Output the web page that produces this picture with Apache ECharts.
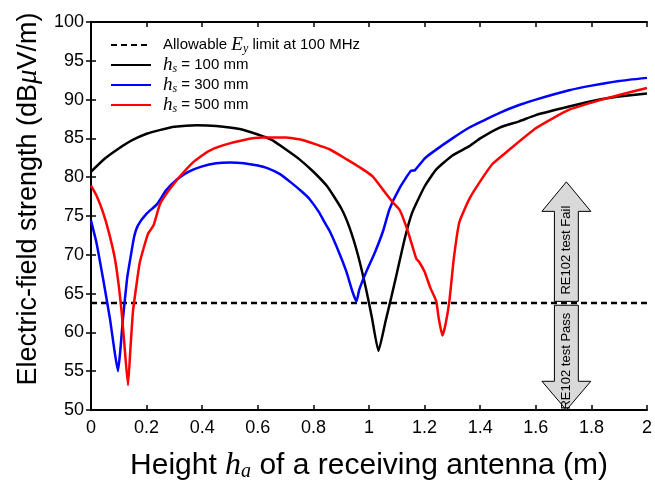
<!DOCTYPE html>
<html>
<head>
<meta charset="utf-8">
<script src="https://cdn.jsdelivr.net/npm/echarts@6/dist/echarts.min.js"></script>
<style>
  html, body { margin: 0; padding: 0; background: #fff; }
  #chart { width: 655px; height: 487px; }
</style>
</head>
<body>
<div id="chart"></div>
<script>
// limit line (dB uV/m)
const limitLevel = 63.8
const limitLine = [[0, limitLevel], [2, limitLevel]]

// hs = 100 mm
const hs100 = [
  [0, 80.7], [0.05, 82.4], [0.1, 83.7], [0.15, 84.8], [0.2, 85.6], [0.25, 86.1],
  [0.3, 86.5], [0.38, 86.7], [0.45, 86.6], [0.535, 86.2], [0.6, 85.5], [0.65, 84.8],
  [0.7, 83.6], [0.75, 82.3], [0.8, 80.7], [0.85, 78.8], [0.9, 76.0], [0.93, 73.5],
  [0.96, 70.0], [0.99, 65.5], [1.01, 62.0], [1.034, 57.6], [1.06, 61.5], [1.08, 64.5],
  [1.1, 67.6], [1.13, 72.3], [1.156, 75.5], [1.2, 78.8], [1.242, 81.0], [1.3, 82.8],
  [1.361, 84.0], [1.4, 85.0], [1.47, 86.4], [1.54, 87.2], [1.6, 88.0], [1.72, 89.1],
  [1.83, 90.0], [1.9, 90.4], [2, 90.8]
]

// hs = 300 mm
const hs300 = [
  [0, 74.4], [0.02, 71.5], [0.043, 67.0], [0.068, 61.8], [0.085, 57.5], [0.097, 55.0],
  [0.105, 57.5], [0.115, 61.8], [0.13, 67.0], [0.14, 69.2], [0.155, 72.3], [0.169, 73.8],
  [0.2, 75.3], [0.237, 76.5], [0.27, 78.3], [0.309, 79.7], [0.35, 80.7], [0.4, 81.4],
  [0.45, 81.8], [0.5, 81.9], [0.55, 81.8], [0.6, 81.5], [0.632, 81.2], [0.68, 80.4],
  [0.72, 79.3], [0.76, 78.1], [0.786, 77.2], [0.82, 75.5], [0.84, 74.2], [0.858, 73.1],
  [0.89, 70.5], [0.919, 67.8], [0.94, 65.3], [0.955, 64.0], [0.965, 65.5], [0.99, 67.8],
  [1.02, 70.2], [1.05, 73.0], [1.074, 75.9], [1.11, 78.6], [1.15, 80.8], [1.165, 80.9],
  [1.2, 82.4], [1.228, 83.2], [1.3, 85.0], [1.361, 86.4], [1.4, 87.1], [1.47, 88.3],
  [1.54, 89.3], [1.6, 90.0], [1.72, 91.2], [1.8, 91.8], [1.9, 92.4], [2, 92.8]
]

// hs = 500 mm
const hs500 = [
  [0, 78.9], [0.02, 77.6], [0.043, 75.5], [0.065, 72.8], [0.086, 69.5], [0.1, 66.0],
  [0.11, 62.7], [0.12, 58.5], [0.133, 53.2], [0.142, 58.0], [0.151, 62.7], [0.165, 66.5],
  [0.176, 69.1], [0.205, 72.7], [0.225, 73.8], [0.248, 76.5], [0.28, 78.3], [0.32, 80.1],
  [0.37, 82.0], [0.42, 83.3], [0.474, 84.1], [0.55, 84.8], [0.618, 85.1], [0.7, 85.1],
  [0.76, 84.8], [0.858, 83.6], [0.92, 82.3], [0.97, 81.2], [1.013, 80.1], [1.05, 78.4],
  [1.085, 76.8], [1.11, 75.8], [1.14, 73.0], [1.17, 69.5], [1.18, 69.1], [1.2, 67.8],
  [1.22, 65.8], [1.242, 64.0], [1.25, 62.0], [1.264, 59.6], [1.275, 61.0], [1.289, 64.0],
  [1.305, 69.5], [1.325, 74.2], [1.361, 77.2], [1.397, 79.3], [1.444, 81.7], [1.5, 83.4],
  [1.6, 86.3], [1.72, 88.7], [1.838, 90.0], [1.9, 90.6], [2, 91.5]
]

// pass / fail arrows (data units)
const arrowX = 1.71
const arrowHead = 0.088
const arrowBody = 0.043
const failArrow = { tip: 79.4, base: 75.6, end: 64.0, mid: 70.6, label: 'RE102 test Fail' }
const passArrow = { tip: 50, base: 53.7, end: 63.5, mid: 56.3, label: 'RE102 test Pass' }

const sans = 'Liberation Sans, Arial, sans-serif'
const serif = 'Liberation Serif, Times New Roman, serif'

const legendText = {
  limit: 'Allowable {i|E}{sub|y} limit at 100 MHz',
  hs100: '{i|h}{sub|s} = 100 mm',
  hs300: '{i|h}{sub|s} = 300 mm',
  hs500: '{i|h}{sub|s} = 500 mm'
}

const line = (name, data, color, type) => ({
  name,
  type: 'line',
  data,
  symbol: 'none',
  showSymbol: false,
  smooth: type ? false : 0.15,
  animation: false,
  lineStyle: { color, width: 2.5, type: type || 'solid' },
  itemStyle: { color }
})

const baseAxis = {
  type: 'value',
  axisLine: { show: true, lineStyle: { color: '#000', width: 2 } },
  axisTick: { show: true, inside: true, length: 5, lineStyle: { color: '#000', width: 1.5 } },
  splitLine: { show: false }
}

const chart = echarts.init(document.getElementById('chart'))

chart.setOption({
  animation: false,
  grid: { left: 91, right: 7, top: 22, bottom: 75 },
  legend: {
    orient: 'vertical',
    left: 105,
    top: 30,
    itemWidth: 40,
    itemHeight: 10,
    itemGap: 0,
    itemStyle: { opacity: 0 },
    data: ['limit', 'hs100', 'hs300', 'hs500'],
    formatter: (name) => legendText[name],
    textStyle: {
      fontFamily: sans, fontSize: 15, color: '#000', lineHeight: 20, padding: [0, 0, 0, 7],
      rich: {
        i: { fontFamily: serif, fontStyle: 'italic', fontSize: 19, lineHeight: 20, color: '#000' },
        sub: { fontFamily: serif, fontStyle: 'italic', fontSize: 12, lineHeight: 12, verticalAlign: 'bottom', color: '#000' }
      }
    }
  },
  xAxis: [
    {
      ...baseAxis,
      min: 0,
      max: 2,
      interval: 0.2,
      name: 'Height {i|h}{sub|a} of a receiving antenna (m)',
      nameLocation: 'middle',
      nameGap: 40,
      nameTextStyle: {
        fontFamily: sans, fontSize: 30, color: '#000', lineHeight: 32,
        rich: {
          i: { fontFamily: serif, fontStyle: 'italic', fontSize: 32, lineHeight: 32, color: '#000' },
          sub: { fontFamily: serif, fontStyle: 'italic', fontSize: 20, lineHeight: 20, verticalAlign: 'bottom', color: '#000' }
        }
      },
      axisLabel: { fontFamily: sans, fontSize: 18, color: '#000', margin: 9 }
    },
    { ...baseAxis, min: 0, max: 2, interval: 0.2, position: 'top', axisLabel: { show: false } }
  ],
  yAxis: [
    {
      ...baseAxis,
      min: 50,
      max: 100,
      interval: 5,
      name: 'Electric-field strength (dB{mu|\u03bc}V/m)',
      nameLocation: 'middle',
      nameGap: 46,
      nameTextStyle: {
        fontFamily: sans, fontSize: 27, color: '#000', padding: [0, 0, 0, 34],
        rich: { mu: { fontFamily: serif, fontStyle: 'italic', fontSize: 29, color: '#000' } }
      },
      axisLabel: { fontFamily: sans, fontSize: 18, color: '#000', margin: 7 }
    },
    { ...baseAxis, min: 50, max: 100, interval: 5, position: 'right', axisLabel: { show: false } }
  ],
  series: [
    line('limit', limitLine, '#000', [6, 4]),
    line('hs100', hs100, '#000'),
    line('hs300', hs300, '#0000ff'),
    line('hs500', hs500, '#ff0000')
  ]
})

// arrows placed through the axis scales
const px = (x, y) => chart.convertToPixel({ gridIndex: 0 }, [x, y])

function arrowShape (a) {
  const pts = [
    [arrowX, a.tip],
    [arrowX + arrowHead, a.base],
    [arrowX + arrowBody, a.base],
    [arrowX + arrowBody, a.end],
    [arrowX - arrowBody, a.end],
    [arrowX - arrowBody, a.base],
    [arrowX - arrowHead, a.base]
  ]
  return pts.map(p => px(p[0], p[1]))
}

function arrowLabel (a) {
  const c = px(arrowX, a.mid)
  return {
    type: 'text',
    x: c[0],
    y: c[1],
    rotation: Math.PI / 2,
    z: 101,
    style: {
      text: a.label,
      fontFamily: sans,
      fontSize: 13,
      fill: '#000',
      align: 'center',
      verticalAlign: 'middle'
    }
  }
}

chart.setOption({
  graphic: [
    { type: 'polygon', z: 100, shape: { points: arrowShape(failArrow) }, style: { fill: '#d9d9d9', stroke: '#000', lineWidth: 1 } },
    { type: 'polygon', z: 100, shape: { points: arrowShape(passArrow) }, style: { fill: '#d9d9d9', stroke: '#000', lineWidth: 1 } },
    arrowLabel(failArrow),
    arrowLabel(passArrow)
  ]
})
</script>
</body>
</html>
